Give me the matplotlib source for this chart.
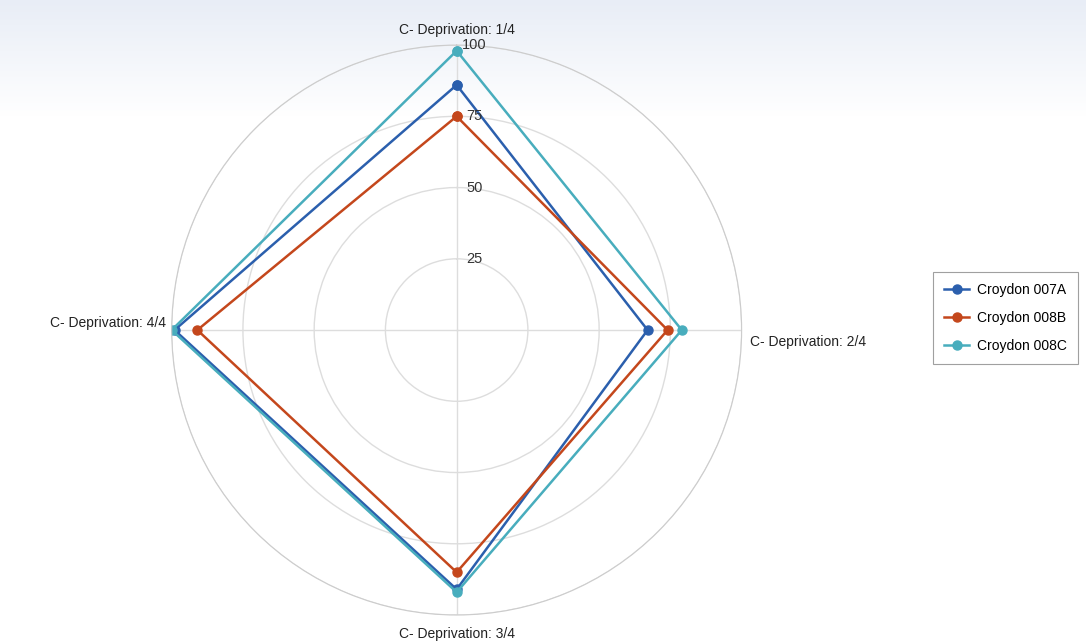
import numpy as np
import matplotlib.pyplot as plt

# Data
categories = ["C- Deprivation: 1/4", "C- Deprivation: 2/4",
              "C- Deprivation: 3/4", "C- Deprivation: 4/4"]
series_names = ["Croydon 007A", "Croydon 008B", "Croydon 008C"]
croydon_007a = [86, 67, 91, 99]
croydon_008b = [75, 74, 85, 91]
croydon_008c = [98, 79, 92, 100]
r_ticks = [25, 50, 75, 100]

colors = ["#2b5fad", "#c4471c", "#48adbd"]

plt.rcParams["font.family"] = ["Liberation Sans", "DejaVu Sans"]

fig = plt.figure(figsize=(10.86, 6.44), dpi=100)

# faint gradient at the top of the picture
bg = fig.add_axes([0, 0, 1, 1], zorder=-10)
grad = np.linspace(0, 1, 644)[:, None]
fade = np.clip(grad / 0.18, 0, 1)
top = np.array([0.91, 0.93, 0.965])
rgb = top + (np.array([1, 1, 1]) - top) * fade[..., None]
bg.imshow(rgb, aspect="auto", extent=[0, 1, 0, 1], origin="upper")
bg.axis("off")

ax = fig.add_axes([0.158, 0.045, 0.525, 0.885], projection="polar")
ax.set_facecolor("none")
ax.set_theta_offset(np.pi / 2)
ax.set_theta_direction(-1)

angles = np.linspace(0, 2 * np.pi, len(categories), endpoint=False)
closed = np.append(angles, angles[0])

for name, vals, c in zip(series_names,
                         [croydon_007a, croydon_008b, croydon_008c], colors):
    v = np.append(vals, vals[0])
    ax.plot(closed, v, color=c, lw=1.8, marker="o", ms=6.5, label=name)

ax.set_ylim(0, 100)
ax.set_yticks(r_ticks)
ax.set_yticklabels([])
ax.set_xticks(angles)
ax.set_xticklabels([])
ax.grid(True, color="#dddddd", lw=1)
ax.spines["polar"].set_color("#cccccc")

# radial labels next to the top spoke
for t in r_ticks:
    ax.annotate(str(t), (0, t), xytext=(18, 0), textcoords="offset pixels",
                ha="center", va="center", fontsize=10.5, color="#333333")

# category labels
ax.annotate(categories[0], (angles[0], 100), xytext=(0, 8), textcoords="offset pixels",
            ha="center", va="bottom", fontsize=10, color="#222222")
ax.annotate(categories[1], (angles[1], 100), xytext=(8, -5), textcoords="offset pixels",
            ha="left", va="top", fontsize=10, color="#222222")
ax.annotate(categories[2], (angles[2], 100), xytext=(0, -12), textcoords="offset pixels",
            ha="center", va="top", fontsize=10, color="#222222")
ax.annotate(categories[3], (angles[3], 100), xytext=(-6, 0), textcoords="offset pixels",
            ha="right", va="bottom", fontsize=10, color="#222222")

leg = ax.legend(loc="center left", bbox_to_anchor=(926 / 1086, 1 - 318 / 644),
                bbox_transform=fig.transFigure, frameon=True, fancybox=False,
                fontsize=10, handlelength=1.8, handletextpad=0.6,
                labelspacing=1.0, borderpad=0.8, edgecolor="#888888")
leg.get_frame().set_linewidth(0.8)

plt.savefig("out.png", dpi=100)
